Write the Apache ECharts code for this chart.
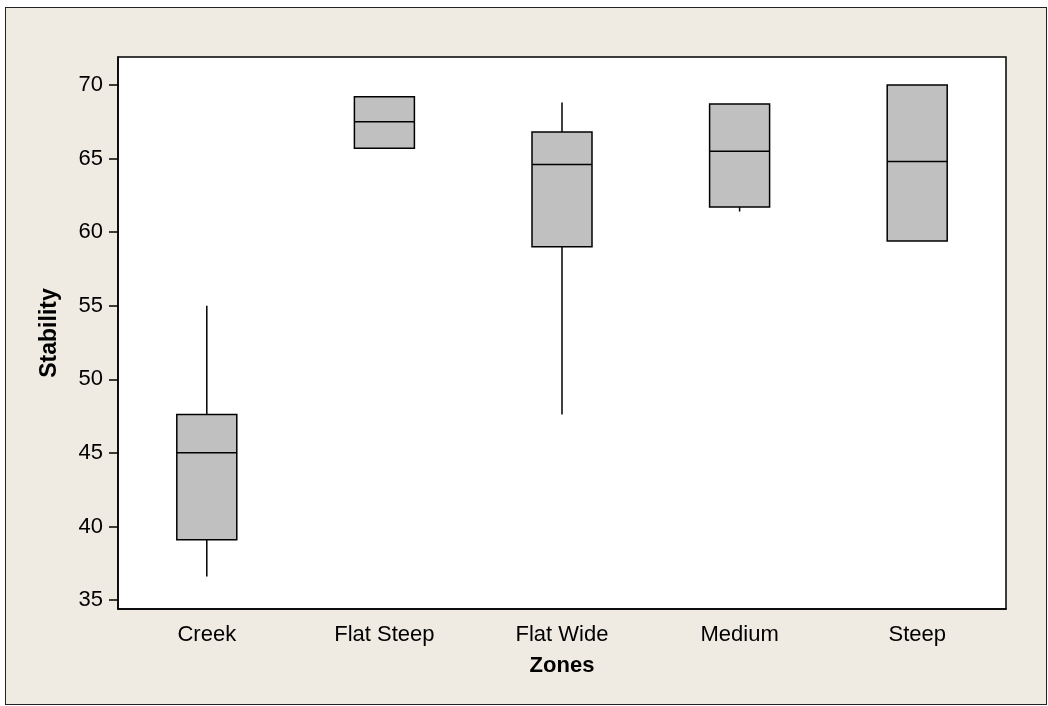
<!DOCTYPE html>
<html>
<head>
<meta charset="utf-8">
<script src="https://cdn.jsdelivr.net/npm/echarts@6/dist/echarts.min.js"></script>
<style>
  html, body { margin: 0; padding: 0; background: #fff; }
  #panel {
    position: absolute; left: 5px; top: 7px; width: 1042px; height: 698px;
    box-sizing: border-box; background: #efebe2; border: 1px solid #222;
  }
  #main { position: absolute; left: 0; top: 0; width: 1048px; height: 706px; }
</style>
</head>
<body>
<div id="panel"></div>
<div id="main"></div>
<script>
// zones on the x axis
var zones = ['Creek', 'Flat Steep', 'Flat Wide', 'Medium', 'Steep'];
// [min, Q1, median, Q3, max] per zone
var creek     = [36.6, 39.1, 45.0, 47.6, 55.0];
var flatSteep = [65.7, 65.7, 67.5, 69.2, 69.2];
var flatWide  = [47.6, 59.0, 64.6, 66.8, 68.8];
var medium    = [61.4, 61.7, 65.5, 68.7, 68.7];
var steep     = [59.4, 59.4, 64.8, 70.0, 70.0];
var yTicks = [35, 40, 45, 50, 55, 60, 65, 70];

var boxes = [creek, flatSteep, flatWide, medium, steep];
var fontFam = '"Liberation Sans", Arial, sans-serif';

var chart = echarts.init(document.getElementById('main'));

chart.setOption({
  animation: false,
  grid: {
    left: 118, top: 57, width: 888, height: 552,
    show: true, backgroundColor: '#fff', borderColor: '#000', borderWidth: 1.5
  },
  xAxis: {
    type: 'category',
    data: zones,
    name: 'Zones',
    nameLocation: 'middle',
    nameGap: 46,
    nameTextStyle: { fontFamily: fontFam, fontSize: 22, fontWeight: 'bold', color: '#000' },
    axisLine: { lineStyle: { color: '#000', width: 1.5 } },
    axisTick: { alignWithLabel: true, length: 10, lineStyle: { color: '#000', width: 1.5 } },
    axisLabel: { margin: 15, fontFamily: fontFam, fontSize: 22, color: '#000' },
    splitLine: { show: false }
  },
  yAxis: {
    type: 'value',
    min: 34.39,
    max: 71.9,
    name: 'Stability',
    nameLocation: 'middle',
    nameGap: 57,
    nameTextStyle: { fontFamily: fontFam, fontSize: 23, fontWeight: 'bold', color: '#000' },
    axisLine: { show: true, lineStyle: { color: '#000', width: 1.5 } },
    axisTick: { show: true, length: 9, customValues: yTicks, lineStyle: { color: '#000', width: 1.5 } },
    axisLabel: { margin: 15, customValues: yTicks, fontFamily: fontFam, fontSize: 22, color: '#000' },
    splitLine: { show: false }
  },
  series: [{
    type: 'custom',
    data: boxes.map(function (b, i) { return [i].concat(b); }),
    encode: { x: 0, y: [1, 2, 3, 4, 5] },
    renderItem: function (params, api) {
      var i = api.value(0);
      var half = 30;
      var pMin = api.coord([i, api.value(1)]);
      var pQ1 = api.coord([i, api.value(2)]);
      var pMed = api.coord([i, api.value(3)]);
      var pQ3 = api.coord([i, api.value(4)]);
      var pMax = api.coord([i, api.value(5)]);
      var x = pMed[0];
      var ls = { stroke: '#000', lineWidth: 1.5 };
      return {
        type: 'group',
        children: [
          { type: 'line', shape: { x1: x, y1: pQ3[1], x2: x, y2: pMax[1] }, style: ls },
          { type: 'line', shape: { x1: x, y1: pQ1[1], x2: x, y2: pMin[1] }, style: ls },
          { type: 'rect', shape: { x: x - half, y: pQ3[1], width: half * 2, height: pQ1[1] - pQ3[1] },
            style: { fill: '#c0c0c0', stroke: '#000', lineWidth: 1.5 } },
          { type: 'line', shape: { x1: x - half, y1: pMed[1], x2: x + half, y2: pMed[1] }, style: ls }
        ]
      };
    }
  }]
});
</script>
</body>
</html>
